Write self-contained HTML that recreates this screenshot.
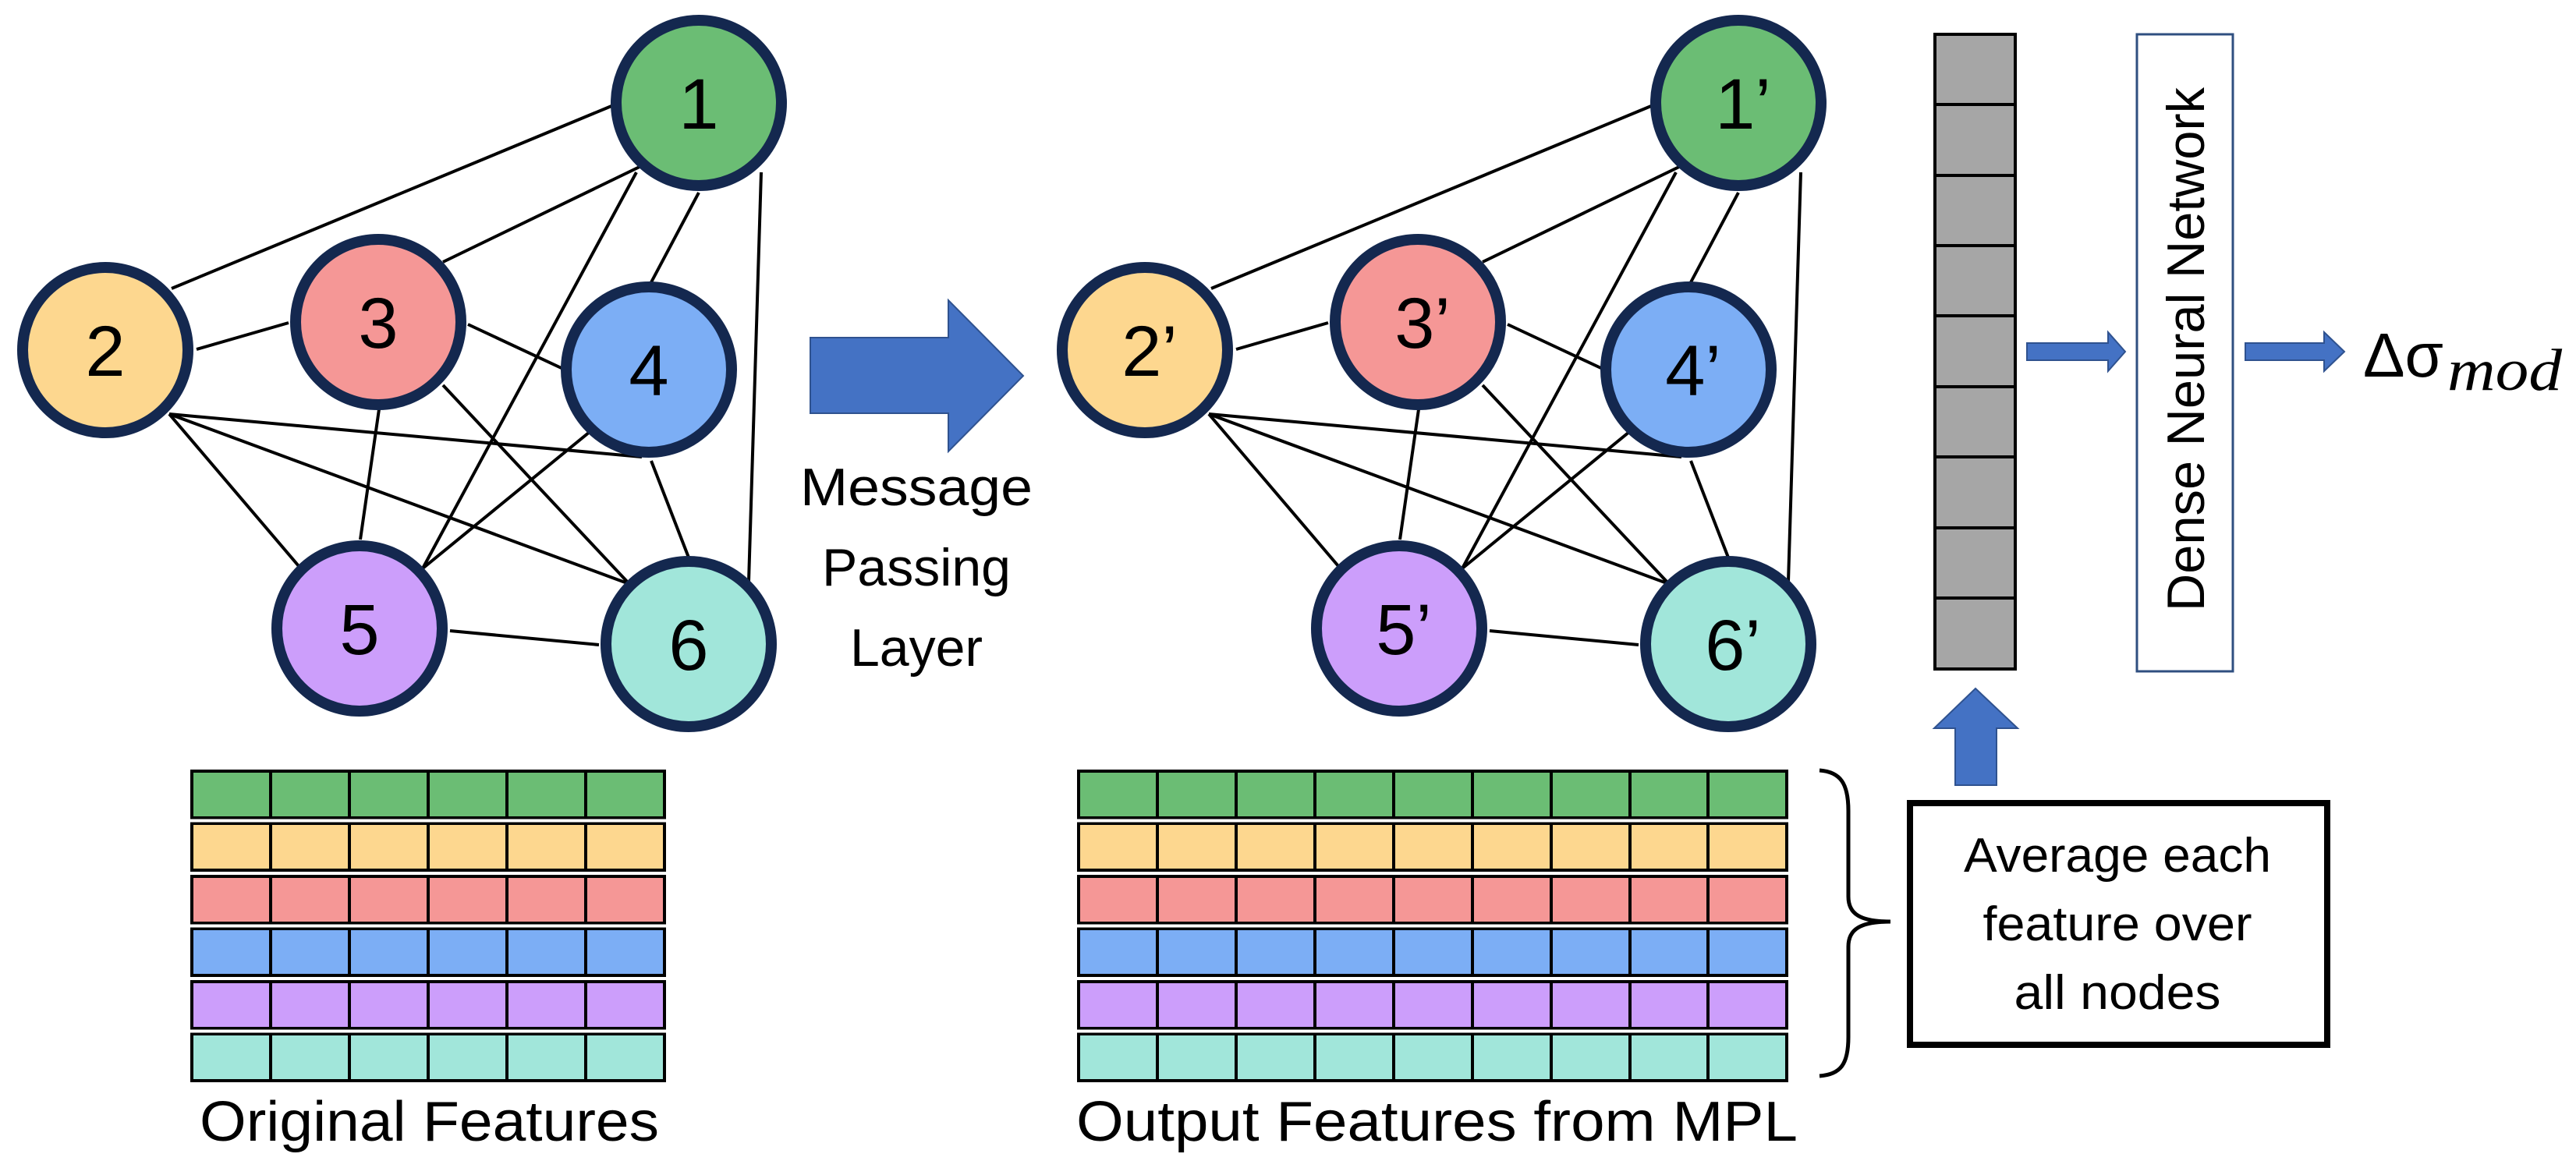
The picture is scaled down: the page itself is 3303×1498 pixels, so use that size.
<!DOCTYPE html>
<html><head><meta charset="utf-8"><style>
html,body{margin:0;padding:0;background:#fff;}
svg{display:block;}
text{font-family:"Liberation Sans",sans-serif;fill:#000;}
</style></head><body>
<svg width="3303" height="1498" viewBox="0 0 3303 1498" xmlns="http://www.w3.org/2000/svg">
<defs>
<g id="edges" stroke="#000" stroke-width="4" fill="none">
<line x1="784" y1="136" x2="220" y2="370"/>
<line x1="820" y1="214" x2="568" y2="336"/>
<line x1="816" y1="221" x2="542" y2="729"/>
<line x1="896" y1="247" x2="835" y2="362"/>
<line x1="976" y1="221" x2="960" y2="746"/>
<line x1="252" y1="448" x2="370" y2="414"/>
<line x1="217" y1="531" x2="823" y2="586"/>
<line x1="217" y1="531" x2="807" y2="749"/>
<line x1="217" y1="531" x2="383" y2="726"/>
<line x1="600" y1="416" x2="724" y2="474"/>
<line x1="486" y1="525" x2="462" y2="692"/>
<line x1="568" y1="494" x2="807" y2="749"/>
<line x1="756" y1="554" x2="542" y2="729"/>
<line x1="835" y1="591" x2="883" y2="715"/>
<line x1="577" y1="809" x2="768" y2="827"/>
</g>
<g id="nodes" stroke="#14284f" stroke-width="14">
<circle cx="896" cy="132" r="106" fill="#6bbd74"/>
<circle cx="135" cy="449" r="106" fill="#fdd78f"/>
<circle cx="485" cy="413" r="106" fill="#f59796"/>
<circle cx="832" cy="474" r="106" fill="#7caef5"/>
<circle cx="461" cy="806" r="106" fill="#cc9efb"/>
<circle cx="883" cy="826" r="106" fill="#a1e6da"/>
</g>
</defs>

<use href="#edges"/>
<use href="#nodes"/>
<use href="#edges" transform="translate(1333,0)"/>
<use href="#nodes" transform="translate(1333,0)"/>

<g font-size="92" text-anchor="middle">
<text x="896" y="165">1</text>
<text x="135" y="482">2</text>
<text x="485" y="446">3</text>
<text x="832" y="507">4</text>
<text x="461" y="839">5</text>
<text x="883" y="859">6</text>
<text x="2235" y="165">1’</text>
<text x="1474" y="482">2’</text>
<text x="1824" y="446">3’</text>
<text x="2171" y="507">4’</text>
<text x="1800" y="839">5’</text>
<text x="2222" y="859">6’</text>
</g>

<polygon points="1039,433 1216,433 1216,385 1312,482 1216,579 1216,530 1039,530" fill="#4472c4" stroke="#2f528f" stroke-width="2"/>
<g font-size="68" text-anchor="middle">
<text x="1175" y="648" textLength="298" lengthAdjust="spacingAndGlyphs">Message</text>
<text x="1175" y="751">Passing</text>
<text x="1175" y="854">Layer</text>
</g>

<g stroke="#000" stroke-width="4">
<rect x="246" y="989" width="606" height="60" fill="#6bbd74"/>
<rect x="246" y="1056" width="606" height="60" fill="#fdd78f"/>
<rect x="246" y="1124" width="606" height="60" fill="#f59796"/>
<rect x="246" y="1191" width="606" height="60" fill="#7caef5"/>
<rect x="246" y="1259" width="606" height="60" fill="#cc9efb"/>
<rect x="246" y="1326" width="606" height="60" fill="#a1e6da"/>
<path d="M347 989V1386M448 989V1386M549 989V1386M650 989V1386M751 989V1386" fill="none"/>
<rect x="1383" y="989" width="908" height="60" fill="#6bbd74"/>
<rect x="1383" y="1056" width="908" height="60" fill="#fdd78f"/>
<rect x="1383" y="1124" width="908" height="60" fill="#f59796"/>
<rect x="1383" y="1191" width="908" height="60" fill="#7caef5"/>
<rect x="1383" y="1259" width="908" height="60" fill="#cc9efb"/>
<rect x="1383" y="1326" width="908" height="60" fill="#a1e6da"/>
<path d="M1484 989V1386M1585 989V1386M1686 989V1386M1787 989V1386M1888 989V1386M1989 989V1386M2090 989V1386M2190 989V1386" fill="none"/>
</g>
<g stroke="#fff" stroke-width="4">
<path d="M240 1052.5H858M240 1120H858M240 1187.5H858M240 1255H858M240 1322.5H858"/>
<path d="M1377 1052.5H2297M1377 1120H2297M1377 1187.5H2297M1377 1255H2297M1377 1322.5H2297"/>
</g>
<text x="256" y="1463" font-size="72" textLength="589" lengthAdjust="spacingAndGlyphs">Original Features</text>
<text x="1380" y="1463" font-size="72" textLength="925" lengthAdjust="spacingAndGlyphs">Output Features from MPL</text>

<path d="M2333 988 C2360 990 2370 1005 2370 1040 L2370 1150 C2370 1172 2385 1182 2424 1182 C2385 1182 2370 1192 2370 1214 L2370 1330 C2370 1365 2360 1378 2333 1380" fill="none" stroke="#000" stroke-width="5"/>

<rect x="2449" y="1030" width="535" height="310" fill="#fff" stroke="#000" stroke-width="8"/>
<g font-size="62" text-anchor="middle">
<text x="2715" y="1118" textLength="394" lengthAdjust="spacingAndGlyphs">Average each</text>
<text x="2715" y="1206" textLength="345" lengthAdjust="spacingAndGlyphs">feature over</text>
<text x="2715" y="1294" textLength="265" lengthAdjust="spacingAndGlyphs">all nodes</text>
</g>

<polygon points="2533,883 2587,934 2560,934 2560,1007 2507,1007 2507,934 2480,934" fill="#4472c4" stroke="#2f528f" stroke-width="2"/>

<rect x="2481" y="44" width="103" height="814" fill="#a6a6a6" stroke="#000" stroke-width="4"/>
<path d="M2481 134H2584M2481 225H2584M2481 315H2584M2481 405H2584M2481 496H2584M2481 586H2584M2481 677H2584M2481 767H2584" stroke="#000" stroke-width="4"/>

<rect x="2740" y="44" width="123" height="817" fill="#fff" stroke="#2f4f80" stroke-width="3"/>
<text transform="translate(2826,784) rotate(-90)" font-size="68" textLength="672" lengthAdjust="spacingAndGlyphs">Dense Neural Network</text>

<polygon points="2599,440 2703,440 2703,426 2725,451 2703,476 2703,462 2599,462" fill="#4472c4" stroke="#2f528f" stroke-width="2"/>
<polygon points="2879,440 2980,440 2980,426 3006,451 2980,476 2980,462 2879,462" fill="#4472c4" stroke="#2f528f" stroke-width="2"/>

<text x="3030" y="483" font-size="80" textLength="103" lengthAdjust="spacingAndGlyphs">Δσ</text>
<text x="3138" y="500" font-size="76" font-style="italic" style="font-family:'Liberation Serif',serif" textLength="147" lengthAdjust="spacingAndGlyphs">mod</text>
</svg>
</body></html>
